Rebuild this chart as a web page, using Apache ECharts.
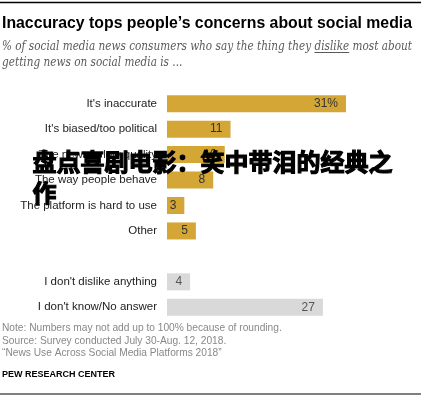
<!DOCTYPE html>
<html><head><meta charset="utf-8">
<script src="https://cdn.jsdelivr.net/npm/echarts@6/dist/echarts.min.js"></script>
<style>html,body{margin:0;padding:0;background:#fff}#c{width:422px;height:397px}</style>
</head><body><div id="c"></div>
<script>
const categories = ["It's inaccurate","It's biased/too political","The news is low quality","The way people behave","The platform is hard to use","Other","","I don't dislike anything","I don't know/No answer"];
const concernValues = [31, 11, 10, 8, 3, 5, null, null, null];
const otherValues = [null, null, null, null, null, null, null, 4, 27];
const valueLabels = ["31%","11","10","8","3","5","","4","27"];
const titleText = "Inaccuracy tops people\u2019s concerns about social media";
const subtitleLines = ["% of social media news consumers who say the thing they dislike most about","getting news on social media is ..."];
const underlinedWord = "dislike";
const noteLines = ["Note: Numbers may not add up to 100% because of rounding.","Source: Survey conducted July 30-Aug. 12, 2018.","\u201cNews Use Across Social Media Platforms 2018\u201d"];
const sourceText = "PEW RESEARCH CENTER";
const overlayLines = ["盘点喜剧电影：笑中带泪的经典之","作"];

const ctx = document.createElement('canvas').getContext('2d');
function measure(font, s){ ctx.font = font; return ctx.measureText(s).width; }
const titleFont = "bold 17px 'Liberation Sans', Arial, sans-serif";
const titleScale = 410 / measure(titleFont, titleText);
const subFont = "italic 13px 'DejaVu Serif', Georgia, serif";
const subScale = 410 / measure(subFont, subtitleLines[0]);
const idx = subtitleLines[0].indexOf(underlinedWord);
const ulX1 = 2 + measure(subFont, subtitleLines[0].slice(0, idx)) * subScale;
const ulX2 = ulX1 + measure(subFont, underlinedWord) * subScale;

const chart = echarts.init(document.getElementById('c'));
const sans = "'Liberation Sans', Arial, sans-serif";
const lbl = (color) => ({show:true, position:'insideRight', distance:8, color:color, fontSize:12, fontFamily:sans,
  formatter: p => valueLabels[p.dataIndex]});
chart.setOption({
  animation:false,
  grid:{left:167, right:24, top:91, height:229},
  xAxis:{type:'value', min:0, max:40, show:false},
  yAxis:{type:'category', data:categories, inverse:true,
    axisLine:{show:false}, axisTick:{show:false},
    axisLabel:{color:'#222', fontSize:11.5, fontFamily:sans, margin:10}},
  series:[
    {type:'bar', data:concernValues, barWidth:17, barGap:'-100%', itemStyle:{color:'#d3a636'}, label:lbl('#333')},
    {type:'bar', data:otherValues, barWidth:17, barGap:'-100%', itemStyle:{color:'#d9d9d9'}, label:lbl('#555')}
  ],
  graphic:[
    {type:'line', shape:{x1:0,y1:2.5,x2:421,y2:2.5}, style:{stroke:'#000', lineWidth:1.5}},
    {type:'text', x:2, y:15, scaleX:titleScale, style:{text:titleText, font:titleFont, fill:'#000'}},
    {type:'text', x:2, y:38.5, scaleX:subScale, style:{text:subtitleLines.join('\n'), font:subFont, fill:'#5a5a5a', lineHeight:16}},
    {type:'line', shape:{x1:ulX1,y1:52.5,x2:ulX2,y2:52.5}, style:{stroke:'#5a5a5a', lineWidth:1}},
    {type:'text', left:2, top:322, style:{text:noteLines.join('\n'), font:"10.2px 'Liberation Sans', Arial, sans-serif", fill:'#888', lineHeight:12.5}},
    {type:'text', left:2, top:370, style:{text:sourceText, font:"bold 9px 'Liberation Sans', Arial, sans-serif", fill:'#000'}},
    {type:'line', shape:{x1:0,y1:394,x2:421,y2:394}, style:{stroke:'#000', lineWidth:1}},
    {type:'text', left:32, top:146, z:100, style:{text:overlayLines.join('\n'), font:"bold 24px 'Noto Sans CJK SC', sans-serif", fill:'#000', stroke:'#000', lineWidth:1.2, lineHeight:31}}
  ]
});
</script></body></html>
